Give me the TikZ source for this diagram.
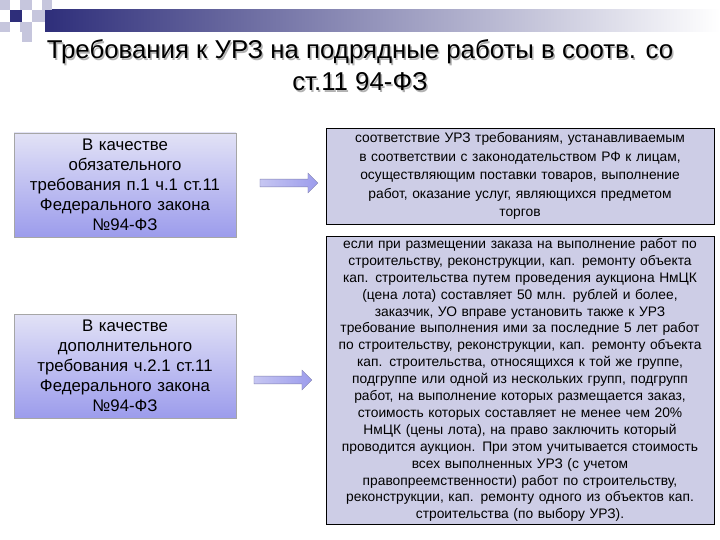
\documentclass[tikz,border=0pt]{standalone}
\usepackage{fontspec}
\setmainfont{Liberation Sans}
\usetikzlibrary{shapes.arrows}
\definecolor{navy}{HTML}{2E2E7A}
\definecolor{lav}{HTML}{CDCDE6}
\definecolor{lavtop}{HTML}{E2E2F6}
\definecolor{lavbot}{HTML}{9C9CEC}
\definecolor{sq}{HTML}{C6C6DD}
\tikzset{
 leftbox/.style={draw=gray!70, top color=lavtop, bottom color=lavbot, minimum width=222pt, text width=218pt, align=center, inner sep=1pt, font=\fontsize{16.8}{20}\selectfont},
 rightbox/.style={draw=black, fill=lav, text width=386pt, align=center, inner sep=1pt, font=\fontsize{13.8}{16.9}\selectfont},
 bigarrow/.style={single arrow, draw=navy!60, left color=lavtop!60!lavbot, right color=lavbot, minimum width=20pt, single arrow head extend=5pt, minimum height=58pt, inner sep=3pt}
}
\begin{document}
\begin{tikzpicture}[x=1pt,y=-1pt]
\useasboundingbox (0,0) rectangle (720,540);
\fill[white] (0,0) rectangle (720,540);
% header decoration
\shade[left color=navy, right color=white] (45,10) rectangle (720,32);
\fill[sq] (0,0) rectangle (10,10);
\fill[sq] (20,0) rectangle (32,10);
\fill[sq] (42,0) rectangle (52,10);
\fill[navy] (10,10) rectangle (22,22);
\fill[sq] (32,10) rectangle (45,22);
\fill[sq] (0,22) rectangle (10,32);
\fill[sq] (20,22) rectangle (32,32);
\fill[sq] (22,32) rectangle (32,42);
\node (t1s) at (361.5,53.5) {\fontsize{25.8}{30}\selectfont\color{gray!60}Требования к УРЗ на подрядные работы в соотв. со};
\node (t1) at (360,52) {\fontsize{25.8}{30}\selectfont Требования к УРЗ на подрядные работы в соотв. со};
\node (t2s) at (361.5,83.5) {\fontsize{25.8}{30}\selectfont\color{gray!60}ст.11 94-ФЗ};
\node (t2) at (360,82) {\fontsize{25.8}{30}\selectfont ст.11 94-ФЗ};
% left boxes
\node[leftbox, minimum height=104pt] (l1) at (125,185) {В качестве\\обязательного\\требования п.1 ч.1 ст.11\\Федерального закона\\№94-ФЗ};
\node[leftbox, minimum height=104pt] (l2) at (125,366) {В качестве\\дополнительного\\требования ч.2.1 ст.11\\Федерального закона\\№94-ФЗ};
% right boxes
\node[rightbox, minimum height=96pt, font=\fontsize{13.8}{18.5}\selectfont] (r1) at (520,176) {соответствие УРЗ требованиям, устанавливаемым\\в соответствии с законодательством РФ к лицам,\\осуществляющим поставки товаров, выполнение\\работ, оказание услуг, являющихся предметом\\торгов};
\node[rightbox, minimum height=288pt] (r2) at (520,380) {если при размещении заказа на выполнение работ по\\строительству, реконструкции, кап. ремонту объекта\\кап. строительства путем проведения аукциона НмЦК\\(цена лота) составляет 50 млн. рублей и более,\\заказчик, УО вправе установить также к УРЗ\\требование выполнения ими за последние 5 лет работ\\по строительству, реконструкции, кап. ремонту объекта\\кап. строительства, относящихся к той же группе,\\подгруппе или одной из нескольких групп, подгрупп\\работ, на выполнение которых размещается заказ,\\стоимость которых составляет не менее чем 20\%\\НмЦК (цены лота), на право заключить который\\проводится аукцион. При этом учитывается стоимость\\всех выполненных УРЗ (с учетом\\правопреемственности) работ по строительству,\\реконструкции, кап. ремонту одного из объектов кап.\\строительства (по выбору УРЗ).};
% arrows
\node[bigarrow] (a1) at (287,183) {};
\node[bigarrow] (a2) at (281,380) {};
\end{tikzpicture}
\end{document}
